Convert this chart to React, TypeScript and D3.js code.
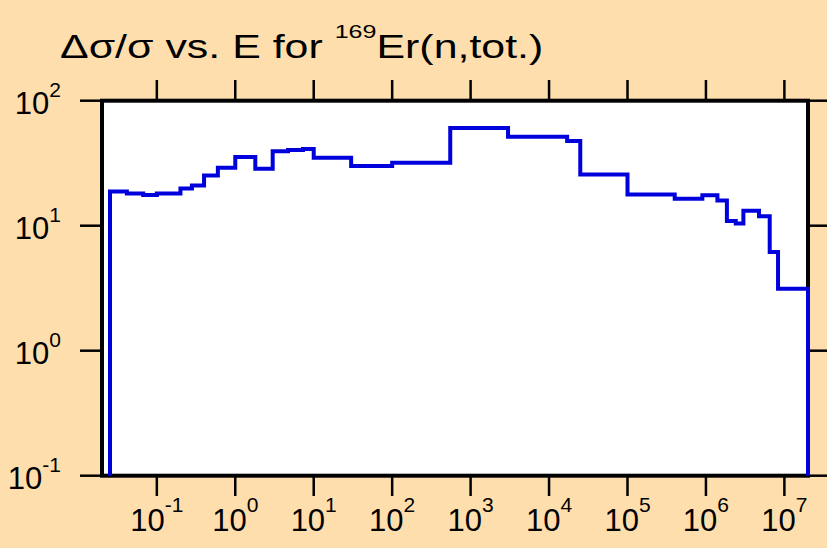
import React from "react"
import * as d3 from "d3"

// Data: energy group boundaries (eV) and relative uncertainty (%) per group
const edges = [
  0.0253, 0.0415, 0.067, 0.1, 0.2, 0.28, 0.4, 0.6, 1.0, 1.8, 3.0, 4.7, 7.3, 10,
  30, 100, 550, 3000, 17000, 25000, 1e5, 4e5, 9e5, 1.4e6, 1.85e6, 2.4e6, 3e6,
  4.75e6, 6.5e6, 8.3e6, 2e7
]
const values = [
  18.8, 18.1, 17.6, 18.1, 19.8, 21.0, 25.2, 29.1, 35.4, 28.6, 39.5, 40.3, 41.0,
  35.0, 30.0, 31.9, 60.4, 51.5, 47.5, 25.7, 17.8, 16.4, 17.5, 15.9, 10.9, 10.4,
  13.2, 11.9, 6.15, 3.13
]
const xTickExps = [-1, 0, 1, 2, 3, 4, 5, 6, 7]
const yTickExps = [-1, 0, 1, 2]

const App = () => {
  // Dimensions
  const totalW = 827
  const totalH = 548
  const left = 102
  const right = 808
  const top = 100.7
  const bottom = 475.7
  const font = "'Liberation Sans', Arial, sans-serif"
  const blue = "#0000dd"

  // Scales
  const xScale = d3.scaleLog().domain([0.02, 2e7]).range([left, right])
  const yScale = d3.scaleLog().domain([0.1, 100]).range([bottom, top])

  const pts: [number, number][] = [[edges[0], 0.1]]
  values.forEach((v, i) => pts.push([edges[i], v]))
  pts.push([edges[edges.length - 1], values[values.length - 1]])
  pts.push([edges[edges.length - 1], 0.1])

  const line = d3
    .line<[number, number]>()
    .x(d => xScale(d[0]))
    .y(d => yScale(d[1]))
    .curve(d3.curveStepAfter)

  return (
    <svg
      width={totalW}
      height={totalH}
      style={{ position: "absolute", left: 0, top: 0 }}
      fontFamily={font}
    >
      <rect width={totalW} height={totalH} fill="#ffdead" />
      <rect x={left} y={top} width={right - left} height={bottom - top} fill="white" />

      {/* Title */}
      <g transform="translate(60,58.3) scale(1.32,1)">
        <text x={0} y={0} fontSize={32.5} fill="black">
          Δσ/σ vs. E for{" "}
          <tspan fontSize={19} dy={-20}>169</tspan>
          <tspan dy={20}>Er(n,tot.)</tspan>
        </text>
      </g>

      {/* X ticks, top and bottom */}
      {xTickExps.map(e => {
        const x = xScale(Math.pow(10, e))
        return (
          <g key={`x${e}`}>
            <line x1={x} x2={x} y1={bottom} y2={496} stroke="black" strokeWidth={2.5} />
            <line x1={x} x2={x} y1={top} y2={80} stroke="black" strokeWidth={2.5} />
            <text x={x} y={531} fontSize={31} textAnchor="middle" fill="black">
              10<tspan fontSize={21} dy={-19}>{e}</tspan>
            </text>
          </g>
        )
      })}

      {/* Y ticks, left and right */}
      {yTickExps.map(e => {
        const y = yScale(Math.pow(10, e))
        return (
          <g key={`y${e}`}>
            <line x1={80} x2={left} y1={y} y2={y} stroke="black" strokeWidth={2.5} />
            <line x1={right} x2={totalW} y1={y} y2={y} stroke="black" strokeWidth={2.5} />
            <text x={61} y={y + 13.6} fontSize={31} textAnchor="end" fill="black">
              10<tspan fontSize={21} dy={-17.6}>{e}</tspan>
            </text>
          </g>
        )
      })}

      {/* Frame */}
      <rect
        x={left}
        y={top}
        width={right - left}
        height={bottom - top}
        fill="none"
        stroke="black"
        strokeWidth={4}
      />

      {/* Step line */}
      <path d={line(pts) || ""} fill="none" stroke={blue} strokeWidth={4} strokeLinejoin="miter" />
    </svg>
  )
}

export default App
